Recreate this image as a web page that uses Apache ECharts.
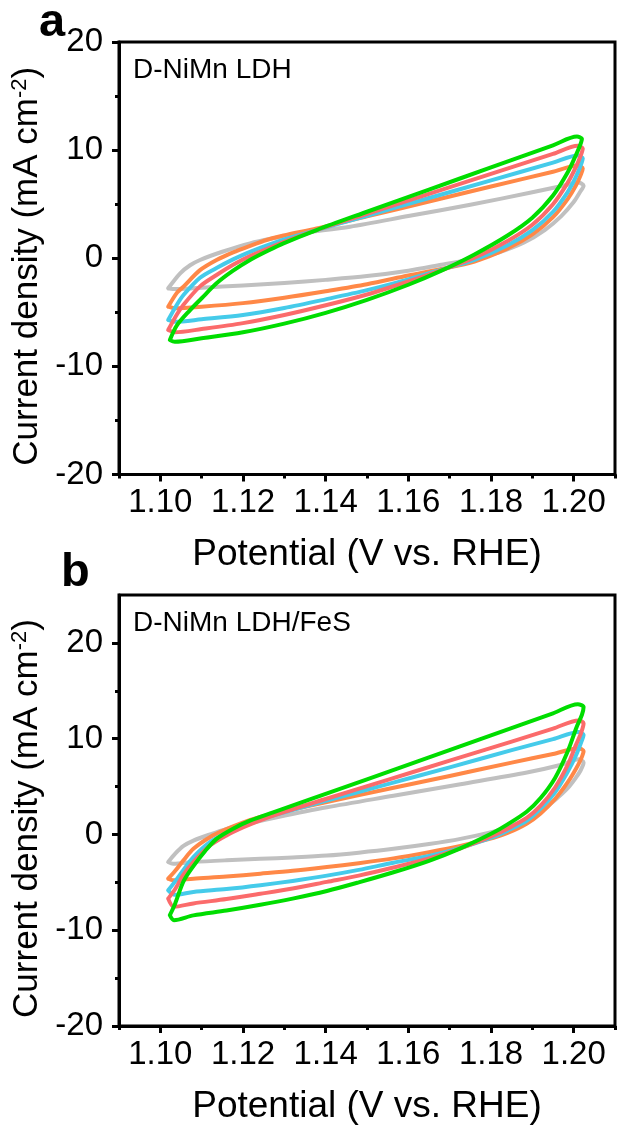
<!DOCTYPE html>
<html>
<head>
<meta charset="utf-8">
<script src="https://cdn.jsdelivr.net/npm/echarts@6/dist/echarts.min.js"></script>
<style>
  html, body { margin: 0; padding: 0; background: #fff; }
  #chart { width: 618px; height: 1126px; }
</style>
</head>
<body>
<div id="chart"></div>
<script>
// Potential axis ticks (V vs. RHE)
const xMajorTicks = [1.10, 1.12, 1.14, 1.16, 1.18, 1.20];
const xMinorTicks = [1.09, 1.11, 1.13, 1.15, 1.17, 1.19, 1.21];
// Current density ticks (mA cm-2)
const yMajorTicks = [-20, -10, 0, 10, 20];
const yMinorTicks = [-15, -5, 5, 15];

const panelNames = ['D-NiMn LDH', 'D-NiMn LDH/FeS'];
const loopColors = ['#C0C0C0', '#FF8847', '#45CBEA', '#FB6B6B', '#00DD00'];

// Panel a: D-NiMn LDH, one closed CV loop per scan rate, points [E, j]
const aGrey = [[1.1019,-2.78],[1.1048,-1.39],[1.1072,-0.65],[1.1096,-0.16],[1.1150,0.6],[1.1217,1.38],[1.1280,1.9],
  [1.1338,2.31],[1.1459,2.92],[1.1600,3.9],[1.1750,4.95],[1.1900,6.1],[1.1980,6.75],[1.2012,7.0],[1.2024,6.7],
  [1.2015,6.1],[1.2000,5.2],[1.1970,3.9],[1.1930,2.6],[1.1880,1.45],[1.1820,0.55],[1.1766,0],[1.1680,-0.6],
  [1.1600,-1.15],[1.1500,-1.65],[1.1400,-2.0],[1.1300,-2.3],[1.1200,-2.52],[1.1100,-2.72],[1.1030,-2.85],[1.1019,-2.78]];
const aOrange = [[1.1019,-4.48],[1.1040,-3.2],[1.1056,-2.63],[1.1096,-1.1],[1.1136,-0.16],[1.1176,0.55],[1.1217,1.15],
  [1.1257,1.69],[1.1298,2.1],[1.1378,2.75],[1.1500,3.87],[1.1650,5.25],[1.1800,6.63],[1.1950,8.0],[1.2010,8.57],[1.2022,8.3],
  [1.2018,7.8],[1.2005,6.7],[1.1985,5.45],[1.1950,3.8],[1.1900,2.2],[1.1840,0.9],[1.1760,-0.3],[1.1680,-1.0],
  [1.1600,-1.6],[1.1500,-2.4],[1.1400,-3.05],[1.1300,-3.65],[1.1200,-4.15],[1.1100,-4.48],[1.1035,-4.62],[1.1019,-4.48]];
const aBlue = [[1.1019,-5.71],[1.1040,-4.3],[1.1056,-3.4],[1.1096,-1.8],[1.1136,-0.9],[1.1176,-0.1],[1.1217,0.6],
  [1.1298,1.72],[1.1378,2.6],[1.1500,3.93],[1.1650,5.57],[1.1800,7.2],[1.1950,8.84],[1.2010,9.5],[1.2022,9.25],
  [1.2018,8.7],[1.2005,7.5],[1.1985,6.1],[1.1950,4.3],[1.1900,2.6],[1.1840,1.2],[1.1760,-0.15],[1.1680,-1.05],
  [1.1600,-1.95],[1.1500,-2.95],[1.1400,-3.8],[1.1300,-4.6],[1.1200,-5.25],[1.1100,-5.65],[1.1035,-5.88],[1.1019,-5.71]];
const aRed = [[1.1019,-6.64],[1.1040,-5.2],[1.1056,-4.3],[1.1096,-2.6],[1.1136,-1.55],[1.1176,-0.6],[1.1217,0.2],
  [1.1298,1.5],[1.1378,2.6],[1.1500,4.1],[1.1650,5.95],[1.1800,7.8],[1.1950,9.65],[1.2010,10.4],[1.2022,10.15],
  [1.2018,9.6],[1.2005,8.4],[1.1985,6.95],[1.1950,5.0],[1.1900,3.1],[1.1840,1.6],[1.1760,0.05],[1.1680,-1.1],
  [1.1600,-2.15],[1.1500,-3.35],[1.1400,-4.35],[1.1300,-5.25],[1.1200,-6.0],[1.1100,-6.55],[1.1035,-6.85],[1.1019,-6.64]];
const aGreen = [[1.1023,-7.56],[1.1040,-6.2],[1.1072,-4.79],[1.1100,-3.7],[1.1136,-2.32],[1.1176,-1.15],[1.1217,-0.16],
  [1.1258,0.65],[1.1298,1.38],[1.1378,2.61],[1.1500,4.3],[1.1650,6.35],[1.1800,8.4],[1.1950,10.45],[1.2008,11.25],[1.2020,11.05],
  [1.2016,10.5],[1.2005,9.5],[1.1985,7.9],[1.1950,5.8],[1.1900,3.75],[1.1840,2.1],[1.1760,0.35],[1.1680,-1.15],
  [1.1600,-2.45],[1.1500,-3.85],[1.1400,-5.05],[1.1300,-6.05],[1.1200,-6.85],[1.1100,-7.4],[1.1035,-7.72],[1.1023,-7.56]];

// Panel b: D-NiMn LDH/FeS
const bGrey = [[1.1019,-2.88],[1.1036,-2.0],[1.1056,-1.2],[1.1080,-0.64],[1.1120,0.0],[1.1161,0.58],[1.1220,1.2],
  [1.1282,1.79],[1.1403,2.83],[1.1564,4.04],[1.1726,5.25],[1.1887,6.47],[1.1968,7.25],[1.2012,7.85],[1.2024,7.5],
  [1.2017,6.7],[1.2005,5.9],[1.1985,4.8],[1.1955,3.6],[1.1920,2.4],[1.1887,1.55],[1.1840,0.75],[1.1806,0.3],
  [1.1726,-0.46],[1.1650,-1.0],[1.1564,-1.5],[1.1480,-1.9],[1.1403,-2.2],[1.1320,-2.4],[1.1242,-2.55],
  [1.1160,-2.7],[1.1080,-2.88],[1.1031,-3.06],[1.1019,-2.88]];
const bOrange = [[1.1019,-4.62],[1.1036,-3.8],[1.1056,-2.7],[1.1080,-1.5],[1.1120,-0.29],[1.1160,0.55],[1.1201,1.27],
  [1.1240,1.8],[1.1282,2.25],[1.1400,3.35],[1.1550,4.75],[1.1700,6.1],[1.1850,7.5],[1.1950,8.4],[1.2012,9.0],[1.2024,8.7],
  [1.2018,7.9],[1.2005,6.8],[1.1985,5.4],[1.1955,3.7],[1.1920,2.2],[1.1887,1.15],[1.1840,0.15],[1.1806,-0.35],
  [1.1726,-1.2],[1.1650,-1.85],[1.1564,-2.5],[1.1480,-3.0],[1.1403,-3.4],[1.1320,-3.8],[1.1242,-4.1],
  [1.1160,-4.4],[1.1080,-4.62],[1.1031,-4.79],[1.1019,-4.62]];
const bBlue = [[1.1019,-5.83],[1.1036,-4.9],[1.1056,-3.7],[1.1080,-2.37],[1.1120,-0.81],[1.1160,0.15],[1.1201,0.92],
  [1.1240,1.55],[1.1282,2.1],[1.1400,3.5],[1.1550,5.25],[1.1700,7.0],[1.1850,8.8],[1.1950,9.95],[1.2012,10.7],[1.2024,10.4],
  [1.2018,9.6],[1.2005,8.2],[1.1985,6.5],[1.1955,4.4],[1.1920,2.7],[1.1887,1.45],[1.1840,0.4],[1.1806,-0.25],
  [1.1726,-1.4],[1.1650,-2.25],[1.1564,-2.95],[1.1480,-3.7],[1.1403,-4.3],[1.1320,-4.85],[1.1242,-5.3],
  [1.1160,-5.7],[1.1080,-6.0],[1.1035,-6.3],[1.1019,-5.83]];
const bRed = [[1.1019,-6.7],[1.1036,-5.7],[1.1056,-4.2],[1.1080,-2.88],[1.1120,-1.16],[1.1160,-0.1],[1.1201,0.75],
  [1.1240,1.45],[1.1282,2.1],[1.1400,3.7],[1.1550,5.7],[1.1700,7.7],[1.1850,9.7],[1.1950,11.05],[1.2012,11.9],[1.2024,11.6],
  [1.2018,10.6],[1.2005,9.3],[1.1985,7.2],[1.1955,4.9],[1.1920,3.0],[1.1887,1.75],[1.1840,0.6],[1.1806,-0.1],
  [1.1726,-1.45],[1.1650,-2.5],[1.1564,-3.45],[1.1480,-4.3],[1.1403,-4.95],[1.1320,-5.65],[1.1242,-6.2],
  [1.1160,-6.75],[1.1080,-7.2],[1.1033,-7.56],[1.1019,-6.7]];
const bGreen = [[1.1023,-8.43],[1.1036,-7.2],[1.1056,-4.9],[1.1080,-3.3],[1.1108,-1.75],[1.1136,-0.46],[1.1176,0.6],
  [1.1217,1.44],[1.1273,2.31],[1.1362,3.65],[1.1500,5.75],[1.1650,8.05],[1.1800,10.35],[1.1950,12.65],[1.2010,13.6],[1.2024,13.3],
  [1.2020,12.5],[1.2007,11.2],[1.1985,8.6],[1.1955,5.9],[1.1920,3.8],[1.1887,2.4],[1.1840,1.05],[1.1806,0.2],
  [1.1726,-1.45],[1.1650,-2.75],[1.1564,-3.95],[1.1480,-5.0],[1.1403,-5.9],[1.1320,-6.7],[1.1242,-7.35],
  [1.1160,-7.95],[1.1080,-8.45],[1.1033,-8.95],[1.1023,-8.43]];

const panelA = [aGrey, aOrange, aBlue, aRed, aGreen];
const panelB = [bGrey, bOrange, bBlue, bRed, bGreen];

const FONT = '"Liberation Sans", Arial, sans-serif';
const black = '#000';

const grids = [
  { left: 119, top: 42, width: 496, height: 432.5, show: true, borderColor: black, borderWidth: 3, containLabel: false },
  { left: 119, top: 595, width: 496, height: 433, show: true, borderColor: black, borderWidth: 3, containLabel: false }
];

function xAxes(gridIndex) {
  return [
    {
      type: 'value', gridIndex, position: 'bottom', min: 1.09, max: 1.21,
      axisLine: { show: true, onZero: false, lineStyle: { color: black, width: 3 } },
      axisTick: { show: true, customValues: xMajorTicks, length: 7, inside: false, lineStyle: { color: black, width: 3 } },
      axisLabel: { show: true, customValues: xMajorTicks, formatter: v => Number(v).toFixed(2),
        fontFamily: FONT, fontSize: 33, color: black, margin: 12 },
      splitLine: { show: false },
      name: 'Potential (V vs. RHE)', nameLocation: 'middle', nameGap: 62,
      nameTextStyle: { fontFamily: FONT, fontSize: 37, color: black }
    },
    {
      type: 'value', gridIndex, position: 'bottom', min: 1.09, max: 1.21,
      axisLine: { show: false, onZero: false },
      axisTick: { show: true, customValues: xMinorTicks, length: 4, lineStyle: { color: black, width: 3 } },
      axisLabel: { show: false },
      splitLine: { show: false }
    }
  ];
}

function yAxes(gridIndex, max) {
  return [
    {
      type: 'value', gridIndex, position: 'left', min: -20, max: max,
      axisLine: { show: true, onZero: false, lineStyle: { color: black, width: 3 } },
      axisTick: { show: true, customValues: yMajorTicks, length: 7, lineStyle: { color: black, width: 3 } },
      axisLabel: { show: true, customValues: yMajorTicks, fontFamily: FONT, fontSize: 33, color: black, margin: 16 },
      splitLine: { show: false },
      name: 'Current density (mA cm{sup|-2})', nameLocation: 'middle', nameGap: 57,
      nameTextStyle: { fontFamily: FONT, fontSize: 35, color: black, padding: [0, 16, 0, 0],
        rich: { sup: { fontFamily: FONT, fontSize: 22, color: black, verticalAlign: 'top', padding: [0, 0, 14, 0] } } }
    },
    {
      type: 'value', gridIndex, position: 'left', min: -20, max: max,
      axisLine: { show: false, onZero: false },
      axisTick: { show: true, customValues: yMinorTicks, length: 4, lineStyle: { color: black, width: 3 } },
      axisLabel: { show: false },
      splitLine: { show: false }
    }
  ];
}

function loops(loopsData, axisBase) {
  return loopsData.map((d, i) => ({
    type: 'line',
    xAxisIndex: axisBase, yAxisIndex: axisBase,
    data: d,
    showSymbol: false,
    symbol: 'none',
    smooth: 0.3,
    clip: true,
    z: 2 + i,
    lineStyle: { color: loopColors[i], width: 4, join: 'round', cap: 'round' },
    silent: true
  }));
}

const option = {
  backgroundColor: '#fff',
  animation: false,
  grid: grids,
  xAxis: [...xAxes(0), ...xAxes(1)],
  yAxis: [...yAxes(0, 20), ...yAxes(1, 25)],
  series: [...loops(panelA, 0), ...loops(panelB, 2)],
  graphic: [
    { type: 'text', left: 39, top: 0, style: { text: 'a', fontFamily: FONT, fontWeight: 'bold', fontSize: 47, fill: black } },
    { type: 'text', left: 61, top: 550, style: { text: 'b', fontFamily: FONT, fontWeight: 'bold', fontSize: 47, fill: black } },
    { type: 'text', left: 133, top: 56, style: { text: panelNames[0], fontFamily: FONT, fontSize: 28, fill: black } },
    { type: 'text', left: 133, top: 609, style: { text: panelNames[1], fontFamily: FONT, fontSize: 28, fill: black } }
  ]
};

echarts.init(document.getElementById('chart'), null, { renderer: 'canvas' }).setOption(option);
</script>
</body>
</html>
